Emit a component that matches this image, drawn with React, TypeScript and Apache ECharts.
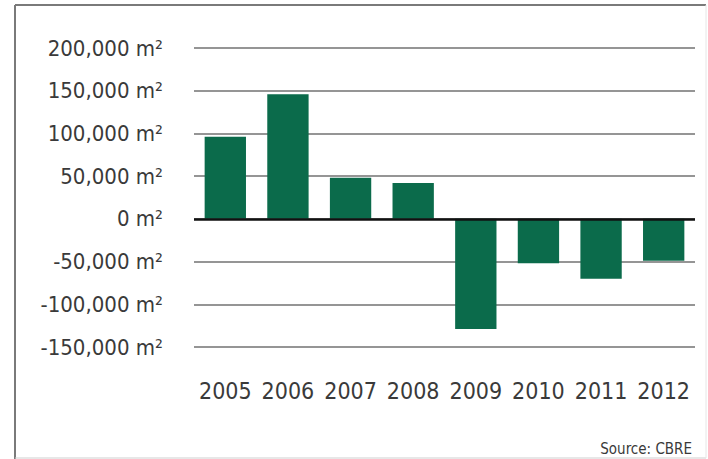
import React, { useEffect, useRef } from "react";
import * as echarts from "echarts";

const years = ["2005", "2006", "2007", "2008", "2009", "2010", "2011", "2012"];
const takeUp = [96000, 146000, 48000, 42000, -129000, -52000, -70000, -49000];
const yMin = -150000;
const yMax = 200000;
const yStep = 50000;
const sourceText = "Source: CBRE";

const fmt = (v: number) => {
  const s = Math.abs(v).toLocaleString("en-US");
  return (v < 0 ? "-" : "") + s + " m\u00B2";
};

export default function App() {
  const ref = useRef<HTMLDivElement>(null);
  useEffect(() => {
    if (!ref.current) return;
    const chart = echarts.init(ref.current, null, { renderer: "svg" });
    chart.setOption({
      animation: false,
      backgroundColor: "#ffffff",
      grid: { left: 194, right: 13, top: 48, bottom: 112, containLabel: false },
      xAxis: {
        type: "category",
        data: years,
        position: "bottom",
        offset: 0,
        axisLine: { show: false },
        axisTick: { show: false },
        axisLabel: {
          interval: 0,
          hideOverlap: false,
          color: "#3a3a3a",
          fontFamily: "DejaVu Sans Condensed",
          fontSize: 23,
          margin: 32,
        },
      },
      yAxis: {
        type: "value",
        min: yMin,
        max: yMax,
        interval: yStep,
        axisLine: { show: false },
        axisTick: { show: false },
        axisLabel: {
          formatter: (v: number) => fmt(v),
          color: "#3a3a3a",
          fontFamily: "DejaVu Sans Condensed",
          fontSize: 22,
          margin: 31,
        },
        splitLine: { lineStyle: { color: "#959595", width: 2 } },
      },
      series: [
        {
          type: "bar",
          data: takeUp,
          barCategoryGap: "34%",
          itemStyle: { color: "#0b6b4b" },
          markLine: {
            silent: true,
            symbol: "none",
            label: { show: false },
            lineStyle: { color: "#111111", width: 2.5, type: "solid" },
            data: [{ yAxis: 0 }],
            z: 5,
          },
        },
      ],
      graphic: [
        { type: "line", shape: { x1: 15, y1: 5, x2: 15, y2: 459 }, style: { stroke: "#7a7a7a", lineWidth: 2 } },
        { type: "line", shape: { x1: 15, y1: 5, x2: 706, y2: 5 }, style: { stroke: "#7a7a7a", lineWidth: 2 } },
        { type: "line", shape: { x1: 15, y1: 458, x2: 706, y2: 458 }, style: { stroke: "#cfcfcf", lineWidth: 1 } },
        { type: "line", shape: { x1: 706, y1: 5, x2: 706, y2: 458 }, style: { stroke: "#e6e6e6", lineWidth: 1 } },
        {
          type: "text",
          right: 16,
          top: 441,
          style: { text: sourceText, fill: "#3a3a3a", font: "15px 'DejaVu Sans Condensed'" },
        },
      ],
    });
    return () => chart.dispose();
  }, []);
  return (
    <div
      ref={ref}
      style={{ position: "fixed", left: 0, top: 0, width: 708, height: 459 }}
    />
  );
}
